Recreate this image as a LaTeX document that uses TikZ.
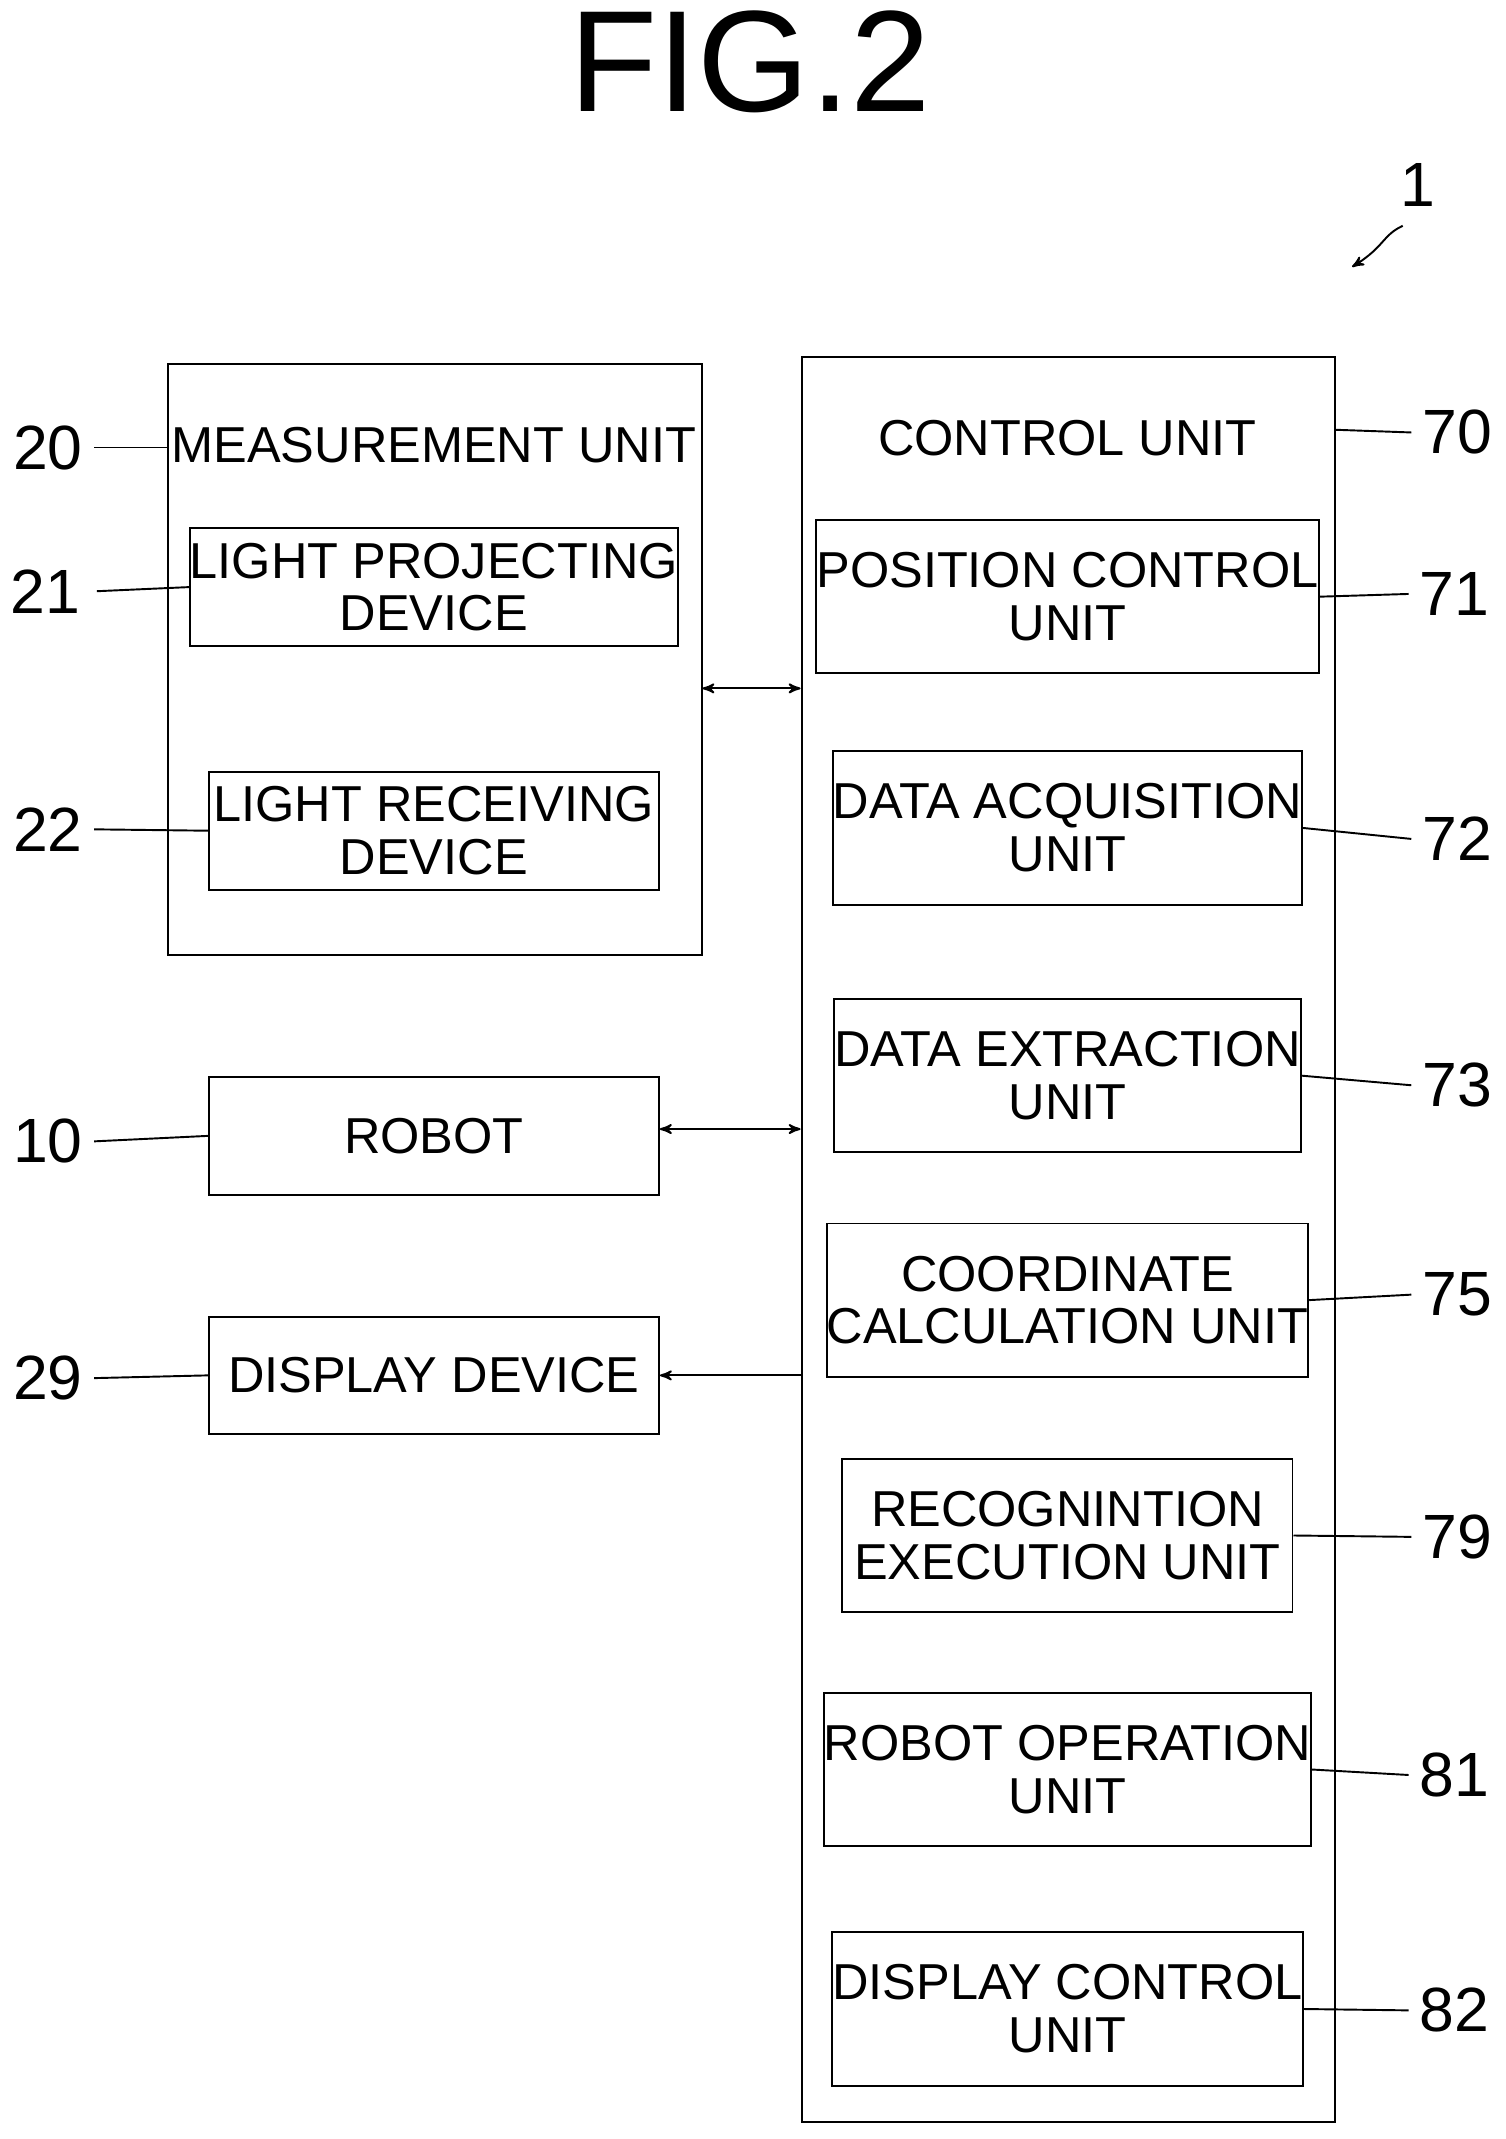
\documentclass[tikz,border=0pt]{standalone}
\usepackage{fontspec}
\setmainfont{Liberation Sans}
\usetikzlibrary{arrows,positioning}
\tikzstyle{every node}+=[inner sep=0pt]
\tikzstyle{block} = [rectangle, draw, thick, font=\fontsize{21}{22}\selectfont, text centered, align=center, minimum width=6.58cm, minimum height=2.24cm]
\tikzstyle{small} = [block, minimum height=1.72cm]
\tikzstyle{line} = [draw, thick, <->, >=stealth']
\tikzstyle{refno} = [font=\fontsize{26}{26}\selectfont]
\tikzstyle{lead} = [draw, thick]
\newcommand{\wavy}[2]{\path [lead] (#1) .. controls ($(#1)!0.5!(#2)+(0,0.35)$) and ($(#1)!0.5!(#2)+(0,-0.35)$) .. (#2);}
\usetikzlibrary{calc}
\begin{document}
\begin{tikzpicture}[x=0.02cm, y=-0.02cm]
            \useasboundingbox (0,0) rectangle (1100,1563);
            % Title
            \node [font=\fontsize{60}{60}\selectfont] (fig) at (548,45) {FIG.2};
            \node [refno] (one) at (1036,135) {1};
            \coordinate (onetip) at (988,195);
            \path [draw, thick, ->, >=stealth'] (1025,165) .. controls (1010,172) and (1012,180) .. (onetip);
            % Outer boxes
            \node [draw, thick, minimum width=7.8cm, minimum height=8.64cm, anchor=north west] (meas) at (122,265) {};
            \node [font=\fontsize{21}{22}\selectfont] (meastitle) at (317,325) {MEASUREMENT UNIT};
            \node [draw, thick, minimum width=7.8cm, minimum height=25.8cm, anchor=north west] (ctrl) at (585,260) {};
            \node [font=\fontsize{21}{22}\selectfont] (ctrltitle) at (780,320) {CONTROL UNIT};
            % Left blocks
            \node [small] (lpd) at (317,429) {LIGHT PROJECTING\\DEVICE};
            \node [small] (lrd) at (317,607) {LIGHT RECEIVING\\DEVICE};
            \node [small] (robot) at (317,830) {ROBOT};
            \node [small] (disp) at (317,1005) {DISPLAY DEVICE};
            % Control blocks
            \node [block] (pos) at (780,436) {POSITION CONTROL\\UNIT};
            \node [block] (acq) at (780,605) {DATA ACQUISITION\\UNIT};
            \node [block] (ext) at (780,786) {DATA EXTRACTION\\UNIT};
            \node [block] (coord) at (780,950) {COORDINATE\\CALCULATION UNIT};
            \node [block] (recog) at (780,1122) {RECOGNINTION\\EXECUTION UNIT};
            \node [block] (rop) at (780,1293) {ROBOT OPERATION\\UNIT};
            \node [block] (dctl) at (780,1468) {DISPLAY CONTROL\\UNIT};
            % Reference numbers
            \node [refno] (n20) at (35,327) {20};
            \node [refno] (n21) at (33,432) {21};
            \node [refno] (n22) at (35,606) {22};
            \node [refno] (n10) at (35,834) {10};
            \node [refno] (n29) at (35,1007) {29};
            \node [refno] (n70) at (1065,316) {70};
            \node [refno] (n71) at (1063,434) {71};
            \node [refno] (n72) at (1065,613) {72};
            \node [refno] (n73) at (1065,793) {73};
            \node [refno] (n75) at (1065,946) {75};
            \node [refno] (n79) at (1065,1123) {79};
            \node [refno] (n81) at (1063,1297) {81};
            \node [refno] (n82) at (1063,1469) {82};
            % Leaders
            \wavy{$(n20.east)+(8,0)$}{122,327}
            \wavy{$(n21.east)+(12,0)$}{lpd.west}
            \wavy{$(n22.east)+(8,0)$}{lrd.west}
            \wavy{$(n10.east)+(8,0)$}{robot.west}
            \wavy{$(n29.east)+(8,0)$}{disp.west}
            \wavy{975,314}{$(n70.west)+(-8,0)$}
            \wavy{pos.east}{$(n71.west)+(-8,0)$}
            \wavy{acq.east}{$(n72.west)+(-8,0)$}
            \wavy{ext.east}{$(n73.west)+(-8,0)$}
            \wavy{coord.east}{$(n75.west)+(-8,0)$}
            \wavy{recog.east}{$(n79.west)+(-8,0)$}
            \wavy{rop.east}{$(n81.west)+(-8,0)$}
            \wavy{dctl.east}{$(n82.west)+(-8,0)$}
            % Connections
            \path [line] (meas.east |- 0,503) -- (ctrl.west |- 0,503);
            \path [line] (robot.east |- 0,825) -- (ctrl.west |- 0,825);
            \path [line, <-] (disp.east) -- (ctrl.west |- disp.east);
\end{tikzpicture}
\end{document}
